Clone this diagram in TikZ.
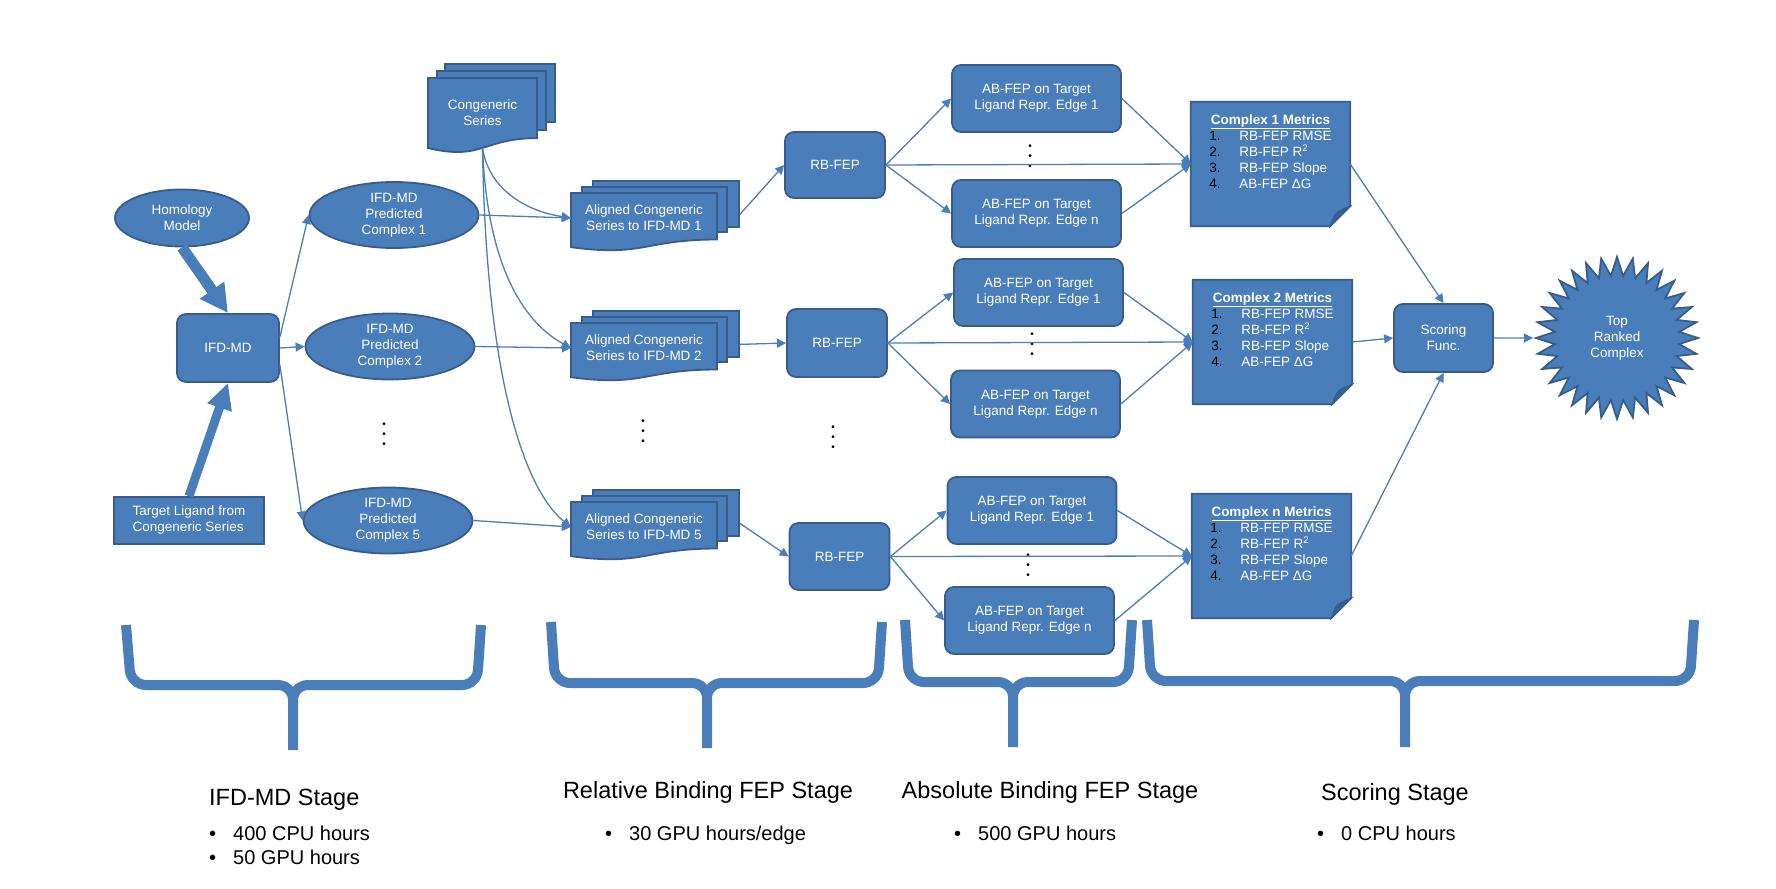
\documentclass[tikz,border=0pt]{standalone}
\usepackage{fontspec}
\setmainfont{Liberation Sans}
\usepackage{xcolor}
\usepackage{tikz}
\usetikzlibrary{positioning}
\usetikzlibrary{arrows.meta,shapes.geometric}

\definecolor{boxfill}{HTML}{4A7EBB}
\definecolor{boxline}{HTML}{385D8A}
\definecolor{folddark}{HTML}{36608F}

% front sheet of a document stack: x, y (top left), width, height
\newcommand{\docsheet}[4]{%
  \filldraw[sheet] (#1,#2) -- (#1+#3,#2) -- (#1+#3,#2+0.802*#4)
    .. controls (#1+0.5*#3,#2+0.802*#4) and (#1+0.5*#3,#2+1.107*#4) .. (#1,#2+0.934*#4) -- cycle;}
\newcommand{\vdotsbox}{\vbox{\baselineskip=10pt\hbox{•}\hbox{•}\hbox{•}}}

\begin{document}
\begin{tikzpicture}[x=1pt,y=-1pt,>={Triangle[length=9pt,width=9pt]},
  every node/.style={font=\fontsize{13.5}{16}\selectfont,text=white,align=center},
  rbox/.style={draw=boxline,fill=boxfill,line width=1.8pt,rounded corners=9pt,inner sep=0pt},
  ell/.style={ellipse,draw=boxline,fill=boxfill,line width=1.8pt,inner sep=0pt,
    minimum width=169pt,minimum height=66pt},
  sheet/.style={draw=boxline,fill=boxfill,line width=1.8pt},
  metric/.style={minimum width=159pt,minimum height=124pt,inner sep=0pt},
  abox/.style={rbox,minimum width=169pt,minimum height=67pt},
  rbbox/.style={rbox,minimum width=100pt,minimum height=67pt},
  dotcol/.style={text=black,font=\fontsize{10}{10}\selectfont,inner sep=0pt},
  conn/.style={->,draw=boxfill,line width=1.3pt},
  fat/.style={-{Triangle[length=28pt,width=28pt]},draw=boxfill,line width=11pt},
  stagebrace/.style={draw=boxfill,line width=10pt,rounded corners=15pt},
  stagetitle/.style={text=black,font=\fontsize{23.5}{28}\selectfont,inner sep=0pt},
  stageitem/.style={text=black,font=\fontsize{20}{24}\selectfont,inner sep=0pt,anchor=base west}]
\useasboundingbox (0,0) rectangle (1776,888);

% IFD-MD stage
\node[ell,minimum width=134pt,minimum height=57pt] (homol) at (182,218) {Homology\\Model};
\node[rbox,minimum width=102pt,minimum height=68pt] (ifdmd) at (228,348) {IFD-MD};
\node[sheet,minimum width=150pt,minimum height=47pt,align=left] (target) at (189,520.5)
  {Target Ligand from\\Congeneric Series};
\node[ell] (cplx1) at (394,215) {IFD-MD\\Predicted\\Complex 1};
\node[ell] (cplx2) at (390,346.5) {IFD-MD\\Predicted\\Complex 2};
\node[ell] (cplx5) at (388,520.5) {IFD-MD\\Predicted\\Complex 5};
\node[dotcol] (dots1) at (384,435) {\vdotsbox};

% congeneric series
\node[sheet,minimum width=110pt,minimum height=58pt] (congc) at (500,93) {};
\node[sheet,minimum width=109pt,minimum height=59pt] (congb) at (491.5,100.5) {};
\docsheet{428}{78}{109}{75}
\node (cong) at (482.5,113) {Congeneric\\Series};
\coordinate (congfoot) at (482.5,148);

% aligned series
\node[sheet,minimum width=146pt,minimum height=46pt] (al1c) at (666,204) {};
\node[sheet,minimum width=145pt,minimum height=45pt] (al1b) at (654.5,209.5) {};
\docsheet{571}{193}{146}{58}
\node[minimum width=146pt,minimum height=40pt,inner sep=0pt] (al1) at (644,218)
  {Aligned Congeneric\\Series to IFD-MD 1};
\node[sheet,minimum width=146pt,minimum height=46pt] (al2c) at (666,334) {};
\node[sheet,minimum width=145pt,minimum height=45pt] (al2b) at (654.5,339.5) {};
\docsheet{571}{323}{146}{58}
\node[minimum width=146pt,minimum height=40pt,inner sep=0pt] (al2) at (644,348)
  {Aligned Congeneric\\Series to IFD-MD 2};
\node[sheet,minimum width=146pt,minimum height=46pt] (al5c) at (666,513) {};
\node[sheet,minimum width=145pt,minimum height=45pt] (al5b) at (654.5,518.5) {};
\docsheet{571}{502}{146}{58}
\node[minimum width=146pt,minimum height=40pt,inner sep=0pt] (al5) at (644,527)
  {Aligned Congeneric\\Series to IFD-MD 5};
\node[dotcol] (dots2) at (643,432) {\vdotsbox};

% RB-FEP
\node[rbbox,minimum height=66pt] (rb1) at (835,165) {RB-FEP};
\node[rbbox,minimum height=68pt] (rb2) at (837,343) {RB-FEP};
\node[rbbox] (rb3) at (839.5,556.5) {RB-FEP};
\node[dotcol] (dots3) at (833,438) {\vdotsbox};

% AB-FEP
\node[abox] (ab11) at (1036.5,98.5) {AB-FEP on Target\\Ligand Repr. Edge 1};
\node[abox] (ab1n) at (1036.5,213.5) {AB-FEP on Target\\Ligand Repr. Edge n};
\node[dotcol] (dab1) at (1030,157) {\vdotsbox};
\node[abox] (ab21) at (1038.5,292.5) {AB-FEP on Target\\Ligand Repr. Edge 1};
\node[abox] (ab2n) at (1035.5,404) {AB-FEP on Target\\Ligand Repr. Edge n};
\node[dotcol] (dab2) at (1032,345) {\vdotsbox};
\node[abox] (ab31) at (1032,510.5) {AB-FEP on Target\\Ligand Repr. Edge 1};
\node[abox] (ab3n) at (1029.5,620.5) {AB-FEP on Target\\Ligand Repr. Edge n};
\node[dotcol] (dab3) at (1028,566) {\vdotsbox};

% metrics
\node[metric] (m1) at (1270.5,164) {};
\node[metric] (m2) at (1272.5,342) {};
\node[metric] (m3) at (1271.5,556) {};
\filldraw[sheet] (m1.north west) -- (m1.north east) -- ([yshift=20pt]m1.south east)
  -- ([xshift=-20pt]m1.south east) -- (m1.south west) -- cycle;
\filldraw[draw=boxline,fill=folddark,line width=1.2pt] ([xshift=-20pt]m1.south east)
  .. controls ([xshift=-15pt,yshift=14pt]m1.south east) .. ([yshift=20pt]m1.south east) -- cycle;
\filldraw[sheet] (m2.north west) -- (m2.north east) -- ([yshift=20pt]m2.south east)
  -- ([xshift=-20pt]m2.south east) -- (m2.south west) -- cycle;
\filldraw[draw=boxline,fill=folddark,line width=1.2pt] ([xshift=-20pt]m2.south east)
  .. controls ([xshift=-15pt,yshift=14pt]m2.south east) .. ([yshift=20pt]m2.south east) -- cycle;
\filldraw[sheet] (m3.north west) -- (m3.north east) -- ([yshift=20pt]m3.south east)
  -- ([xshift=-20pt]m3.south east) -- (m3.south west) -- cycle;
\filldraw[draw=boxline,fill=folddark,line width=1.2pt] ([xshift=-20pt]m3.south east)
  .. controls ([xshift=-15pt,yshift=14pt]m3.south east) .. ([yshift=20pt]m3.south east) -- cycle;
\node[below=11pt of m1.north,inner sep=0pt] (m1txt) {\begin{tabular}{@{}l@{}l@{}}
  \multicolumn{2}{@{}c@{}}{\bfseries\underline{Complex 1 Metrics}}\\
  \makebox[30pt][l]{\color{black}1.}&RB-FEP RMSE\\
  \makebox[30pt][l]{\color{black}2.}&RB-FEP R\textsuperscript{2}\\
  \makebox[30pt][l]{\color{black}3.}&RB-FEP Slope\\
  \makebox[30pt][l]{\color{black}4.}&AB-FEP ΔG\end{tabular}};
\node[below=11pt of m2.north,inner sep=0pt] (m2txt) {\begin{tabular}{@{}l@{}l@{}}
  \multicolumn{2}{@{}c@{}}{\bfseries\underline{Complex 2 Metrics}}\\
  \makebox[30pt][l]{\color{black}1.}&RB-FEP RMSE\\
  \makebox[30pt][l]{\color{black}2.}&RB-FEP R\textsuperscript{2}\\
  \makebox[30pt][l]{\color{black}3.}&RB-FEP Slope\\
  \makebox[30pt][l]{\color{black}4.}&AB-FEP ΔG\end{tabular}};
\node[below=11pt of m3.north,inner sep=0pt] (m3txt) {\begin{tabular}{@{}l@{}l@{}}
  \multicolumn{2}{@{}c@{}}{\bfseries\underline{Complex n Metrics}}\\
  \makebox[30pt][l]{\color{black}1.}&RB-FEP RMSE\\
  \makebox[30pt][l]{\color{black}2.}&RB-FEP R\textsuperscript{2}\\
  \makebox[30pt][l]{\color{black}3.}&RB-FEP Slope\\
  \makebox[30pt][l]{\color{black}4.}&AB-FEP ΔG\end{tabular}};

% scoring
\node[rbox,minimum width=99pt,minimum height=68pt] (score) at (1443.5,338) {Scoring\\Func.};
\node[star,star points=32,star point ratio=1.3,minimum size=162pt,inner sep=0pt,
  draw=boxline,fill=boxfill,line width=1.8pt] (top) at (1617,338) {Top\\Ranked\\Complex};

% connectors
\draw[fat] (homol.south) -- (ifdmd.north);
\draw[fat,line width=9pt,-{Triangle[length=26pt,width=24pt]}] (target.north) -- (ifdmd.south);
\draw[conn] (ifdmd.12) -- (cplx1.west);
\draw[conn] (ifdmd.east) -- (cplx2.west);
\draw[conn] (ifdmd.-18) -- (cplx5.west);
\draw[conn] (cplx1.east) -- (al1.west);
\draw[conn] (cplx2.east) -- (al2.west);
\draw[conn] (cplx5.east) -- (al5.west);
\draw[conn] (congfoot) .. controls (488,185) and (520,210) .. (al1.west);
\draw[conn] (congfoot) .. controls (487,260) and (520,320) .. (al2.west);
\draw[conn] (congfoot) .. controls (486,380) and (525,490) .. (al5.west);
\draw[conn] (al1c.-8) -- (rb1.west);
\draw[conn] (al2c.-8) -- (rb2.west);
\draw[conn] (al5c.-8) -- (rb3.west);
\draw[conn] (rb1.east) -- (ab11.west);
\draw[conn] (rb1.east) -- (ab1n.west);
\draw[conn] (rb1.east) -- (m1.west);
\draw[conn] (ab11.east) -- (m1.west);
\draw[conn] (ab1n.east) -- (m1.west);
\draw[conn] (rb2.east) -- (ab21.west);
\draw[conn] (rb2.east) -- (ab2n.west);
\draw[conn] (rb2.east) -- (m2.west);
\draw[conn] (ab21.east) -- (m2.west);
\draw[conn] (ab2n.east) -- (m2.west);
\draw[conn] (rb3.east) -- (ab31.west);
\draw[conn] (rb3.east) -- (ab3n.west);
\draw[conn] (rb3.east) -- (m3.west);
\draw[conn] (ab31.east) -- (m3.west);
\draw[conn] (ab3n.east) -- (m3.west);
\draw[conn] (m1.east) -- (score.north);
\draw[conn] (m2.east) -- (score.west);
\draw[conn] (m3.east) -- (score.south);
\draw[conn] (score.east) -- (top.west);

% stage braces
\draw[stagebrace] (126,625) -- (131,685) -- (293,685) -- (293,750)
  (481,625) -- (477,685) -- (293,685) -- (293,750);
\draw[stagebrace] (551,622) -- (555,683) -- (707,683) -- (707,748)
  (882,622) -- (878,683) -- (707,683) -- (707,748);
\draw[stagebrace] (905,620) -- (909,682) -- (1013,682) -- (1013,747)
  (1132,620) -- (1128,682) -- (1013,682) -- (1013,747);
\draw[stagebrace] (1147,620) -- (1151,681) -- (1405,681) -- (1405,747)
  (1694,620) -- (1690,681) -- (1405,681) -- (1405,747);

% stage labels
\node[stagetitle,anchor=base west] (st1) at (209,805) {IFD-MD Stage};
\node[stageitem] (st1a) at (209,840) {\makebox[24pt][l]{•}400 CPU hours};
\node[stageitem] (st1b) at (209,864) {\makebox[24pt][l]{•}50 GPU hours};
\node[stagetitle,anchor=base] (st2) at (708,798) {Relative Binding FEP Stage};
\node[stageitem] (st2a) at (605,840) {\makebox[24pt][l]{•}30 GPU hours/edge};
\node[stagetitle,anchor=base] (st3) at (1050,798) {Absolute Binding FEP Stage};
\node[stageitem] (st3a) at (954,840) {\makebox[24pt][l]{•}500 GPU hours};
\node[stagetitle,anchor=base] (st4) at (1395,800) {Scoring Stage};
\node[stageitem] (st4a) at (1317,840) {\makebox[24pt][l]{•}0 CPU hours};
\end{tikzpicture}
\end{document}
